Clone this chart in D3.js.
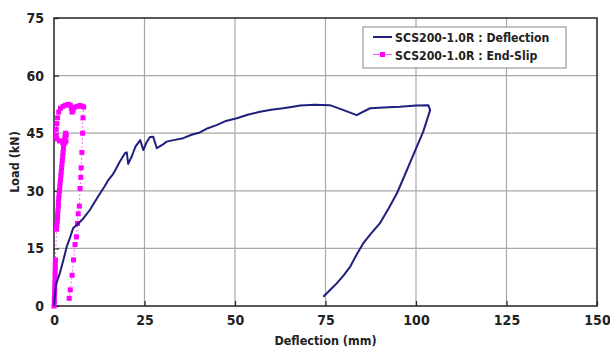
<!DOCTYPE html>
<html>

<head>
    <title>SCS200-1.0R Load-Deflection</title>
    <script src="https://d3js.org/d3.v7.min.js" charset="utf-8"></script>
    <style>
        body { margin: 0; background: #fff; }
        text { font-family: "DejaVu Sans Condensed", "DejaVu Sans", sans-serif; font-weight: bold; }
    </style>
</head>

<body>
    <script>
        var width = 610;
        var height = 349;
        var margin = { left: 54, right: 13, top: 18, bottom: 43 };

        // tick values
        var xTicks = [0, 25, 50, 75, 100, 125, 150];
        var yTicks = [0, 15, 30, 45, 60, 75];

        var seriesNames = ["SCS200-1.0R : Deflection", "SCS200-1.0R : End-Slip"];

        // deflection (mm), load (kN)
        var deflX = [0, 0.5, 1.6, 2.6, 3.5, 4.5, 5.3, 6.3, 8.1, 9.9, 11.2, 12.7, 14, 15, 16.2, 17, 18, 19.6, 20.1, 20.5, 21.5, 22.5, 23.8, 24.7, 25.5, 26.5, 27.4, 28.4, 30, 31.1, 33, 35.7, 38, 40.3, 42.5, 44.9, 47.5, 50.5, 53.5, 56.9, 60, 63.3, 66, 68, 72, 76.2, 80, 83.6, 87.3, 91, 95.6, 100, 103.4, 103.9, 102, 100, 98.3, 96.5, 94.7, 92.5, 90, 87.5, 85.4, 83.5, 81.8, 80, 78.1, 76.2, 74.4];
        var deflY = [0, 5.5, 8.5, 12, 15.4, 18, 20.3, 21.1, 22.8, 25, 27, 29.3, 31.2, 32.8, 34.2, 35.5, 37.3, 39.8, 40, 37, 39, 41.5, 43.2, 40.6, 42.5, 44, 44.1, 41.1, 42, 42.8, 43.2, 43.7, 44.6, 45.2, 46.3, 47.1, 48.2, 48.9, 49.8, 50.6, 51.1, 51.5, 51.9, 52.2, 52.4, 52.3, 51, 49.7, 51.5, 51.7, 51.9, 52.2, 52.3, 51, 45.4, 41, 37.2, 33.2, 29.3, 25.5, 21.5, 18.8, 16.3, 13.2, 10.2, 8, 5.9, 4.1, 2.4];

        // end-slip (mm), load (kN)
        var slipX = [0, 0.1, 0.1, 0.15, 0.2, 0.2, 0.25, 0.3, 0.3, 0.3, 0.35, 0.35, 0.4, 0.7, 0.8, 0.9, 1.0, 1.0, 1.1, 1.2, 1.2, 1.3, 1.4, 1.5, 1.6, 1.7, 1.8, 1.9, 2.0, 2.1, 2.2, 2.3, 2.4, 2.5, 2.6, 2.7, 2.8, 3.0, 3.2, 3.4, 3.3, 3.0, 2.4, 1.5, 0.8, 0.6, 0.6, 0.8, 1.0, 1.3, 1.8, 2.5, 3.2, 4.0, 4.5, 4.8, 5.0, 5.3, 5.8, 6.5, 7.2, 7.8, 8.2, 8.0, 7.9, 7.7, 7.5, 7.4, 7.2, 7.0, 6.7, 6.5, 6.2, 5.8, 5.4, 5.0, 4.5, 4.2];
        var slipY = [0, 1, 2, 3, 4, 5, 6, 7, 8, 9, 10, 11, 12, 20, 21, 22, 23, 24, 25, 26, 27, 28, 29, 30, 31, 32, 33, 34, 35, 36, 37, 38, 39, 40, 41, 42, 43, 44, 45, 44.5, 43, 42.5, 42.5, 43, 43.5, 44.5, 46, 47.5, 49, 50.5, 51.5, 52, 52.3, 52.5, 52.3, 51.5, 50.5, 51, 51.8, 52, 52.2, 52, 51.8, 49, 45, 40, 36, 33.5, 30.6, 26, 24, 21.5, 18, 16, 12, 8, 4.2, 2];

        var deflData = deflX.map(function (d, i) { return [d, deflY[i]]; });
        var slipData = slipX.map(function (d, i) { return [d, slipY[i]]; });

        var x = d3.scaleLinear().domain([0, 150]).range([margin.left, width - margin.right]);
        var y = d3.scaleLinear().domain([0, 75]).range([height - margin.bottom, margin.top]);

        var svg = d3.select("body").append("svg")
            .attr("width", width)
            .attr("height", height);

        // grid
        svg.append("g").selectAll("line")
            .data(yTicks.slice(1, -1))
            .enter().append("line")
            .attr("x1", x(0)).attr("x2", x(150))
            .attr("y1", function (d) { return y(d); })
            .attr("y2", function (d) { return y(d); })
            .attr("stroke", "#a8a8a8").attr("stroke-width", 1.2);
        svg.append("g").selectAll("line")
            .data(xTicks.slice(1, -1))
            .enter().append("line")
            .attr("y1", y(0)).attr("y2", y(75))
            .attr("x1", function (d) { return x(d); })
            .attr("x2", function (d) { return x(d); })
            .attr("stroke", "#a8a8a8").attr("stroke-width", 1.2);

        // frame
        svg.append("rect")
            .attr("x", x(0)).attr("y", y(75))
            .attr("width", x(150) - x(0)).attr("height", y(0) - y(75))
            .attr("fill", "none").attr("stroke", "#222").attr("stroke-width", 1.5);

        // axes
        var xAxis = svg.append("g")
            .attr("transform", "translate(0," + y(0) + ")")
            .call(d3.axisBottom(x).tickValues(xTicks).tickSizeInner(-5).tickSizeOuter(0).tickPadding(9));
        var yAxis = svg.append("g")
            .attr("transform", "translate(" + x(0) + ",0)")
            .call(d3.axisLeft(y).tickValues(yTicks).tickSizeInner(-5).tickSizeOuter(0).tickPadding(10));
        [xAxis, yAxis].forEach(function (a) {
            a.select(".domain").remove();
            a.selectAll(".tick line").attr("stroke", "#222").attr("stroke-width", 1.2);
            a.selectAll("text")
                .attr("font-size", 14)
                .attr("font-family", "DejaVu Sans Condensed")
                .attr("font-weight", "bold")
                .attr("fill", "#222");
        });

        // axis titles
        svg.append("text")
            .attr("x", (x(0) + x(150)) / 2)
            .attr("y", 345)
            .attr("text-anchor", "middle")
            .attr("font-size", 12.5)
            .attr("fill", "#222")
            .text("Deflection (mm)");
        svg.append("text")
            .attr("transform", "translate(19," + (y(0) + y(75)) / 2 + ") rotate(-90)")
            .attr("text-anchor", "middle")
            .attr("font-size", 12.5)
            .attr("fill", "#222")
            .text("Load (kN)");

        var line = d3.line()
            .x(function (d) { return x(d[0]); })
            .y(function (d) { return y(d[1]); });

        // end-slip
        svg.append("path")
            .datum(slipData)
            .attr("d", line)
            .attr("fill", "none")
            .attr("stroke", "#ff66ff")
            .attr("stroke-width", 1)
            .attr("stroke-dasharray", "2,2");
        svg.append("g").selectAll("rect")
            .data(slipData)
            .enter().append("rect")
            .attr("x", function (d) { return x(d[0]) - 2.5; })
            .attr("y", function (d) { return y(d[1]) - 2.5; })
            .attr("width", 5).attr("height", 5)
            .attr("fill", "#ff00ff");

        // deflection
        svg.append("path")
            .datum(deflData)
            .attr("d", line)
            .attr("fill", "none")
            .attr("stroke", "#1f1f7e")
            .attr("stroke-width", 2)
            .attr("stroke-linejoin", "round");

        // legend
        var lg = svg.append("g").attr("transform", "translate(363,27)");
        lg.append("rect")
            .attr("width", 203).attr("height", 41)
            .attr("fill", "#fff").attr("stroke", "#999").attr("stroke-width", 1.2);
        var colors = ["#1f1f7e", "#ff00ff"];
        seriesNames.forEach(function (name, i) {
            var ly = 10 + i * 17.5;
            lg.append("line")
                .attr("x1", 10).attr("x2", 29)
                .attr("y1", ly).attr("y2", ly)
                .attr("stroke", i == 0 ? colors[0] : "#ff66ff")
                .attr("stroke-width", i == 0 ? 2 : 1.2);
            if (i == 1) {
                lg.append("rect")
                    .attr("x", 17).attr("y", ly - 2.5)
                    .attr("width", 5).attr("height", 5)
                    .attr("fill", colors[1]);
            }
            lg.append("text")
                .attr("x", 32).attr("y", ly + 5)
                .attr("font-size", 12.2)
                .attr("fill", "#222")
                .text(name);
        });
    </script>
</body>

</html>
